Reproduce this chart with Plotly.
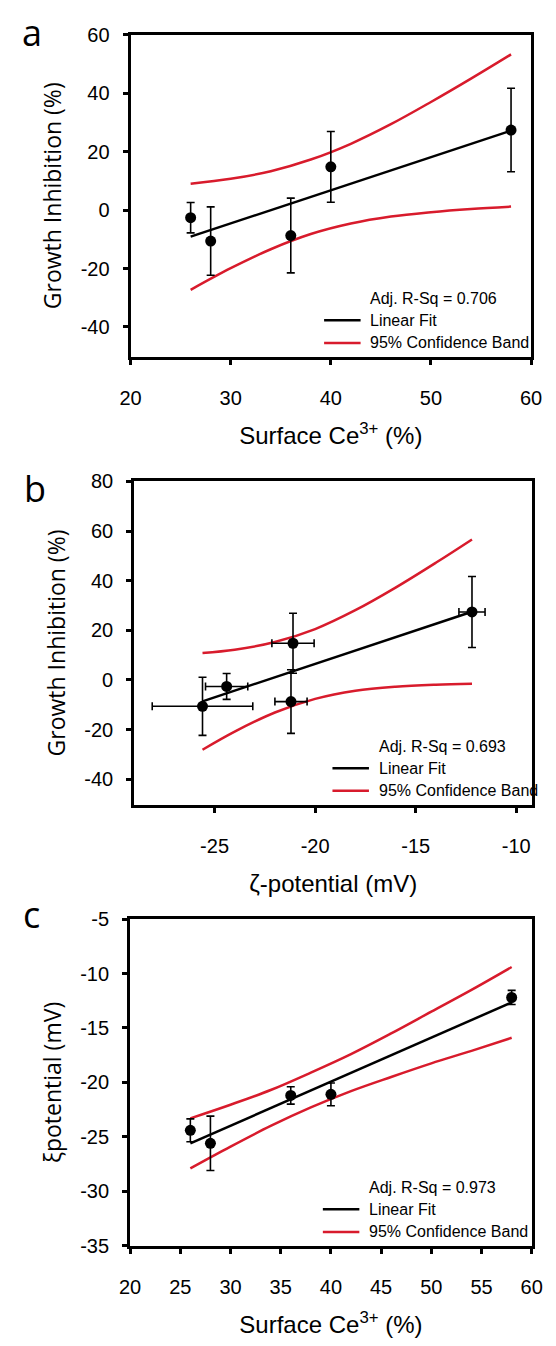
import plotly.graph_objects as go

# ---------------- data ----------------
ce3 = [26, 28, 36, 40, 58]                      # Surface Ce3+ (%)
growth_inh = [-2.6, -10.6, -8.7, 14.8, 27.4]    # Growth inhibition (%)
growth_err = [5.2, 11.7, 12.8, 12.1, 14.3]
zeta = [-24.4, -25.6, -21.2, -21.1, -12.2]      # zeta potential (mV)
zeta_err = [1.05, 2.5, 0.8, 1.05, 0.65]

# panel a: fit and 95% confidence band
a_fit_x = [26, 58]
a_fit_y = [-9.1, 27.2]
a_band_x = [26, 30, 34, 38, 42, 46, 50, 54, 58]
a_band_hi = [9.0, 10.7, 13.3, 17.3, 22.7, 29.4, 37.0, 45.0, 53.3]
a_band_lo = [-27.3, -19.9, -13.4, -8.2, -4.6, -2.2, -0.7, 0.4, 1.2]
a_rsq = "0.706"

# panel b
b_fit_x = [-25.6, -12.2]
b_fit_y = [-8.6, 27.5]
b_band_x = [-25.6, -24, -22, -20, -18, -16, -14, -12.2]
b_band_hi = [10.9, 12.2, 15.3, 20.5, 28.1, 37.2, 47.2, 56.6]
b_band_lo = [-28.1, -20.8, -13.1, -7.6, -4.3, -2.7, -1.9, -1.5]
b_rsq = "0.693"

# panel c
c_fit_x = [26, 58]
c_fit_y = [-25.6, -12.65]
c_band_x = [26, 30, 34, 38, 42, 46, 50, 54, 58]
c_band_hi = [-23.3, -22.05, -20.7, -19.1, -17.4, -15.5, -13.5, -11.5, -9.4]
c_band_lo = [-27.9, -25.9, -24.0, -22.3, -20.8, -19.5, -18.25, -17.1, -15.9]
c_rsq = "0.973"

a_xticks = [20, 30, 40, 50, 60]
a_yticks = [60, 40, 20, 0, -20, -40]
b_xticks = [-25, -20, -15, -10]
b_yticks = [80, 60, 40, 20, 0, -20, -40]
c_xticks = [20, 25, 30, 35, 40, 45, 50, 55, 60]
c_yticks = [-5, -10, -15, -20, -25, -30, -35]

# ---------------- layout helpers ----------------
W, H = 556, 1346
RED = "#d81b2c"
TICKFONT = dict(family="Liberation Sans, Arial, sans-serif", size=20, color="black")
XTITLEFONT = dict(family="Liberation Sans, Arial, sans-serif", size=24, color="black")
YTITLEFONT = dict(family="Open Sans, sans-serif", size=23, color="black")
LEGFONT = dict(family="Liberation Sans, Arial, sans-serif", size=16, color="black")


def px(x):
    return x / W


def py(y):
    return 1 - y / H


# frame boxes (pixel line centres): left, right, top, bottom
frames = {
    "a": (123, 543, 22.7, 353),
    "b": (126.7, 544.3, 476.7, 808.3),
    "c": (122.5, 543.7, 921.7, 1256.7),
}

fig = go.Figure()


def add_panel(idx, xs, ys, yerr, xerr, fx, fy, bx, bhi, blo):
    xa = "x" if idx == 1 else f"x{idx}"
    ya = "y" if idx == 1 else f"y{idx}"
    fig.add_trace(go.Scatter(x=bx, y=bhi, mode="lines", line=dict(color=RED, width=2.5, shape="spline"),
                             xaxis=xa, yaxis=ya, showlegend=False, name="95% Confidence Band"))
    fig.add_trace(go.Scatter(x=bx, y=blo, mode="lines", line=dict(color=RED, width=2.5, shape="spline"),
                             xaxis=xa, yaxis=ya, showlegend=False, name="95% Confidence Band"))
    fig.add_trace(go.Scatter(x=fx, y=fy, mode="lines", line=dict(color="black", width=2.5),
                             xaxis=xa, yaxis=ya, showlegend=False, name="Linear Fit"))
    ex = None
    if xerr is not None:
        ex = dict(type="data", array=xerr, color="black", thickness=1.6, width=4)
    fig.add_trace(go.Scatter(x=xs, y=ys, mode="markers",
                             marker=dict(color="black", size=11),
                             error_y=dict(type="data", array=yerr, color="black", thickness=1.6, width=4),
                             error_x=ex,
                             xaxis=xa, yaxis=ya, showlegend=False, name="data"))


add_panel(1, ce3, growth_inh, growth_err, None, a_fit_x, a_fit_y, a_band_x, a_band_hi, a_band_lo)
add_panel(2, zeta, growth_inh, growth_err, zeta_err, b_fit_x, b_fit_y, b_band_x, b_band_hi, b_band_lo)
add_panel(3, ce3, zeta, zeta_err, None, c_fit_x, c_fit_y, c_band_x, c_band_hi, c_band_lo)


def axis_common():
    return dict(showline=True, linewidth=3, linecolor="black", mirror=True,
                ticks="outside", ticklen=5, tickwidth=2.5, tickcolor="black",
                showgrid=False, zeroline=False, tickfont=TICKFONT)


def dom(l, r, t, b):
    return [px(l + 1.5), px(r - 1.5)], [py(b - 1.5), py(t + 1.5)]


def labels(vals):
    return [str(v) for v in vals]


panels = [
    ("a", 1, [20, 60], [-50.2, 60], a_xticks, a_yticks,
     "Surface Ce<sup>3+</sup> (%)", "Growth Inhibition (%)"),
    ("b", 2, [-29, -9.2], [-50.2, 80], b_xticks, b_yticks,
     "\u03b6-potential (mV)", "Growth Inhibition (%)"),
    ("c", 3, [20, 60], [-35, -5], c_xticks, c_yticks,
     "Surface Ce<sup>3+</sup> (%)", "\u03bepotential (mV)"),
]

for key, idx, xr, yr, xt, yt, xtitle, ytitle in panels:
    l, r, t, b = frames[key]
    dx, dy = dom(l, r, t, b)
    xname = "xaxis" if idx == 1 else f"xaxis{idx}"
    yname = "yaxis" if idx == 1 else f"yaxis{idx}"
    xanchor = "y" if idx == 1 else f"y{idx}"
    yanchor = "x" if idx == 1 else f"x{idx}"
    xa = axis_common()
    xa.update(domain=dx, range=xr, tickvals=xt, ticktext=labels(xt), anchor=xanchor,
              ticklabelstandoff=16, title=dict(text=xtitle, font=XTITLEFONT, standoff=20))
    ya = axis_common()
    ya.update(domain=dy, range=yr, tickvals=yt, ticktext=labels(yt), anchor=yanchor,
              ticklabelstandoff=9, title=dict(text=ytitle, font=YTITLEFONT, standoff=13))
    fig.update_layout(**{xname: xa, yname: ya})

# legends (drawn inside each frame, lower right)
annotations = []
shapes = []
legend_rows = {"a": (a_rsq, 171), "b": (b_rsq, 163.6), "c": (c_rsq, 173)}
for key, (rsq, offset) in legend_rows.items():
    l, r, t, b = frames[key]
    tx = r - offset
    rows = [b - 61, b - 38.5, b - 15.5]
    annotations.append(dict(x=px(tx), y=py(rows[0]), xref="paper", yref="paper", xanchor="left",
                            yanchor="middle", showarrow=False, text=f"Adj. R-Sq = {rsq}", font=LEGFONT))
    annotations.append(dict(x=px(tx), y=py(rows[1]), xref="paper", yref="paper", xanchor="left",
                            yanchor="middle", showarrow=False, text="Linear Fit", font=LEGFONT))
    annotations.append(dict(x=px(tx), y=py(rows[2]), xref="paper", yref="paper", xanchor="left",
                            yanchor="middle", showarrow=False, text="95% Confidence Band", font=LEGFONT))
    shapes.append(dict(type="line", xref="paper", yref="paper", x0=px(tx - 46), x1=px(tx - 8),
                       y0=py(rows[1]), y1=py(rows[1]), line=dict(color="black", width=2.5)))
    shapes.append(dict(type="line", xref="paper", yref="paper", x0=px(tx - 46), x1=px(tx - 8),
                       y0=py(rows[2]), y1=py(rows[2]), line=dict(color=RED, width=2.5)))

# panel letters
for lab, (x, y) in {"a": (22, 22), "b": (24.5, 485), "c": (21, 919)}.items():
    annotations.append(dict(x=px(x), y=py(y), xref="paper", yref="paper", xanchor="center",
                            yanchor="middle", showarrow=False, text=lab,
                            font=dict(family="Open Sans, sans-serif", size=36, color="black")))

fig.update_layout(width=W, height=H, margin=dict(l=0, r=0, t=0, b=0),
                  paper_bgcolor="white", plot_bgcolor="white",
                  annotations=annotations, shapes=shapes, showlegend=False)

fig.write_html("out.html", config={"displayModeBar": False},
               post_script="document.body.style.margin='0';document.body.style.overflow='hidden';")
